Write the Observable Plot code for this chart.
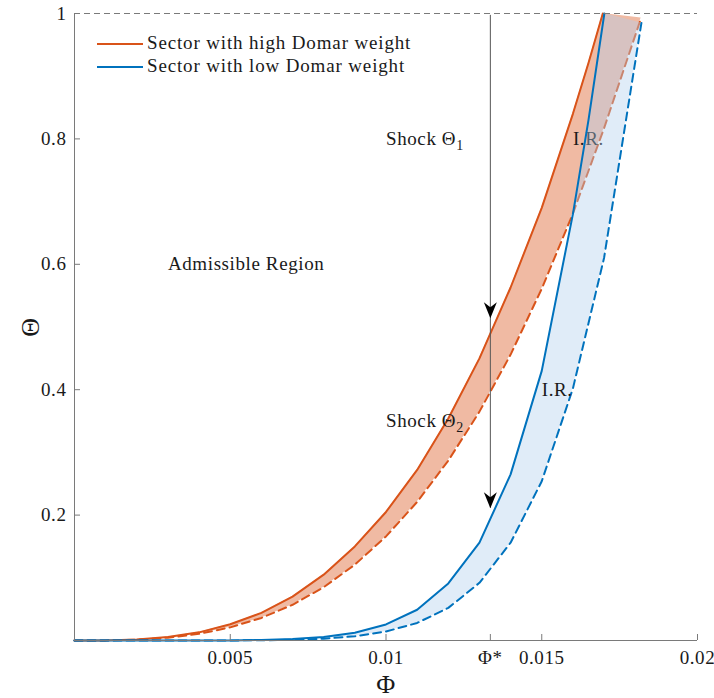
<!DOCTYPE html>
<html>
<head>
<meta charset="utf-8">
<script src="https://cdn.jsdelivr.net/npm/d3@7"></script>
<script src="https://cdn.jsdelivr.net/npm/@observablehq/plot@0.6"></script>
<style>
  body { margin: 0; background: #fff; }
  #wrap { position: relative; width: 714px; height: 698px; }
  #wrap svg text { font-family: "Liberation Serif", serif; }
  .legend { position: absolute; left: 97px; top: 31px; font-family: "Liberation Serif", serif; font-size: 19px; letter-spacing: 0.85px; color: #1a1a1a; }
  .legend .row { height: 23px; line-height: 23px; white-space: nowrap; }
  .legend .sw { display: inline-block; width: 46px; height: 2px; vertical-align: middle; margin-right: 4px; position: relative; top: -1px; }
</style>
</head>
<body>
<div id="wrap"></div>
<script>
// ---- Data ----
const seriesNames = ["Sector with high Domar weight", "Sector with low Domar weight"];
const seriesColors = ["#D95319", "#0072BD"];

// High Domar weight sector: upper (solid) and lower (dashed) bounds
const hiUpperPhi   = [0, 0.001, 0.002, 0.003, 0.004, 0.005, 0.006, 0.007, 0.008, 0.009, 0.010, 0.011, 0.012, 0.013, 0.014, 0.015, 0.016, 0.0165, 0.01696];
const hiUpperTheta = [0, 0.0002, 0.0016, 0.0055, 0.013, 0.026, 0.044, 0.070, 0.105, 0.150, 0.205, 0.272, 0.354, 0.450, 0.563, 0.690, 0.840, 0.921, 1.0];
const hiLowerPhi   = [0, 0.001, 0.002, 0.003, 0.004, 0.005, 0.006, 0.007, 0.008, 0.009, 0.010, 0.011, 0.012, 0.013, 0.014, 0.015, 0.016, 0.017, 0.01819];
const hiLowerTheta = [0, 0.0002, 0.0013, 0.0045, 0.0106, 0.021, 0.036, 0.057, 0.085, 0.121, 0.166, 0.221, 0.287, 0.365, 0.456, 0.561, 0.681, 0.817, 0.993];

// Low Domar weight sector: upper (solid) and lower (dashed) bounds
const loUpperPhi   = [0, 0.001, 0.002, 0.003, 0.004, 0.005, 0.006, 0.007, 0.008, 0.009, 0.010, 0.011, 0.012, 0.013, 0.014, 0.015, 0.016, 0.0165, 0.01701];
const loUpperTheta = [0, 0, 0, 0, 0, 0.0002, 0.0008, 0.0022, 0.0055, 0.0124, 0.0256, 0.049, 0.091, 0.156, 0.265, 0.430, 0.680, 0.830, 1.0];
const loLowerPhi   = [0, 0.001, 0.002, 0.003, 0.004, 0.005, 0.006, 0.007, 0.008, 0.009, 0.010, 0.011, 0.012, 0.013, 0.014, 0.015, 0.016, 0.017, 0.0182];
const loLowerTheta = [0, 0, 0, 0, 0, 0.0001, 0.0004, 0.0011, 0.0029, 0.0068, 0.0143, 0.028, 0.052, 0.092, 0.156, 0.254, 0.402, 0.610, 0.985];

// Axis ticks
const phiStar = 0.01335;
const xTickValues = [0.005, 0.01, phiStar, 0.015, 0.02];
const xTickLabels = ["0.005", "0.01", "Φ*", "0.015", "0.02"];
const yTickValues = [0.2, 0.4, 0.6, 0.8, 1];
const yTickLabels = ["0.2", "0.4", "0.6", "0.8", "1"];

// Shock arrow tips (Θ)
const arrowTop = 0.997;
const arrowTips = [0.514, 0.211];

// Annotations (data coordinates)
const notesBefore = [{x: 0.016, y: 0.8, text: "I.R."}];
const notesAfter = [
  {x: 0.010, y: 0.8, text: "Shock Θ₁"},
  {x: 0.010, y: 0.35, text: "Shock Θ₂"},
  {x: 0.003, y: 0.6, text: "Admissible Region"},
  {x: 0.015, y: 0.4, text: "I.R."}
];

// ---- Build tables ----
const pts = (xs, ys) => xs.map((x, i) => ({x, y: ys[i]}));
const band = (ux, uy, lx, ly) => ux.map((_, i) => ({x1: ux[i], y1: uy[i], x2: lx[i], y2: ly[i]}));

const hiUpper = pts(hiUpperPhi, hiUpperTheta);
const hiLower = pts(hiLowerPhi, hiLowerTheta);
const loUpper = pts(loUpperPhi, loUpperTheta);
const loLower = pts(loLowerPhi, loLowerTheta);
const hiBand = band(hiUpperPhi, hiUpperTheta, hiLowerPhi, hiLowerTheta);
const loBand = band(loUpperPhi, loUpperTheta, loLowerPhi, loLowerTheta);

const xLabelMap = new Map(xTickValues.map((v, i) => [v, xTickLabels[i]]));
const yLabelMap = new Map(yTickValues.map((v, i) => [v, yTickLabels[i]]));

// Filled "vback" arrowhead with its tip at the anchor point
const vback = {
  draw(ctx) {
    ctx.moveTo(0, 0);
    ctx.lineTo(-6.5, -16);
    ctx.lineTo(0, -11);
    ctx.lineTo(6.5, -16);
    ctx.closePath();
  }
};

const font = '"Liberation Serif", serif';
const axisGray = "#7a7a7a";
const textDark = "#1a1a1a";
const ls = "0.6px";

const chart = Plot.plot({
  width: 714,
  height: 698,
  marginLeft: 74,
  marginRight: 17,
  marginTop: 13,
  marginBottom: 58,
  x: {domain: [0, 0.02]},
  y: {domain: [0, 1]},
  style: {fontFamily: font, fontSize: "19px", background: "white", color: textDark},
  marks: [
    // high Domar band
    Plot.area(hiBand, {x1: "x1", y1: "y1", x2: "x2", y2: "y2", fill: seriesColors[0], fillOpacity: 0.4}),
    Plot.line(hiUpper, {x: "x", y: "y", stroke: seriesColors[0], strokeWidth: 2}),
    Plot.line(hiLower, {x: "x", y: "y", stroke: seriesColors[0], strokeWidth: 2, strokeDasharray: "8,5"}),
    Plot.text(notesBefore, {x: "x", y: "y", text: "text", textAnchor: "start", lineAnchor: "middle", fill: textDark, fontSize: 19, fontFamily: font}),
    // low Domar band
    Plot.area(loBand, {x1: "x1", y1: "y1", x2: "x2", y2: "y2", fill: "rgb(178,208,238)", fillOpacity: 0.4}),
    Plot.line(loUpper, {x: "x", y: "y", stroke: seriesColors[1], strokeWidth: 2}),
    Plot.line(loLower, {x: "x", y: "y", stroke: seriesColors[1], strokeWidth: 2, strokeDasharray: "8,5"}),
    // frame
    Plot.ruleY([1], {stroke: axisGray, strokeDasharray: "6,4"}),
    Plot.ruleX([0], {stroke: axisGray}),
    Plot.ruleY([0], {stroke: axisGray}),
    Plot.axisX({ticks: xTickValues, tickFormat: d => xLabelMap.get(d), tickSize: -6, tickPadding: 16, stroke: axisGray, fill: textDark, fontSize: 19, fontFamily: font, label: null}),
    Plot.axisY({ticks: yTickValues, tickFormat: d => yLabelMap.get(d), tickSize: -6, tickPadding: 14, stroke: axisGray, fill: textDark, fontSize: 19, fontFamily: font, label: null}),
    Plot.text(["Φ"], {frameAnchor: "bottom", dy: 44, textAnchor: "middle", lineAnchor: "middle", fontSize: 26, fontFamily: font, fill: textDark}),
    Plot.text(["Θ"], {frameAnchor: "left", dx: -44, rotate: -90, textAnchor: "middle", lineAnchor: "middle", fontSize: 26, fontFamily: font, fill: textDark}),
    // shock arrows
    Plot.ruleX([phiStar], {y1: arrowTips[arrowTips.length - 1], y2: arrowTop, stroke: "#555", strokeWidth: 1}),
    Plot.dot(arrowTips, {x: () => phiStar, y: d => d, symbol: vback, fill: "black", stroke: "none", r: 5}),
    // annotations
    Plot.text(notesAfter, {x: "x", y: "y", text: "text", textAnchor: "start", lineAnchor: "middle", fill: textDark, fontSize: 19, fontFamily: font})
  ]
});

// letter spacing and real subscripts (Θ₁ -> Θ with lowered "1")
const subMap = {"₁": "1", "₂": "2"};
chart.querySelectorAll("text").forEach(t => {
  t.style.letterSpacing = ls;
  const s = t.textContent;
  const m = s.match(/[₁₂]/);
  if (m && t.children.length === 0) {
    const base = s.replace(/[₁₂]/, "");
    t.textContent = "";
    const ns = "http://www.w3.org/2000/svg";
    const a = document.createElementNS(ns, "tspan");
    a.textContent = base;
    const b = document.createElementNS(ns, "tspan");
    b.textContent = subMap[m[0]];
    b.setAttribute("dy", "5");
    b.setAttribute("font-size", "14");
    t.appendChild(a);
    t.appendChild(b);
  }
});

const wrap = document.getElementById("wrap");
wrap.appendChild(chart);

const legend = document.createElement("div");
legend.className = "legend";
seriesNames.forEach((name, i) => {
  const row = document.createElement("div");
  row.className = "row";
  const sw = document.createElement("span");
  sw.className = "sw";
  sw.style.background = seriesColors[i];
  row.appendChild(sw);
  row.appendChild(document.createTextNode(name));
  legend.appendChild(row);
});
wrap.appendChild(legend);
</script>
</body>
</html>
